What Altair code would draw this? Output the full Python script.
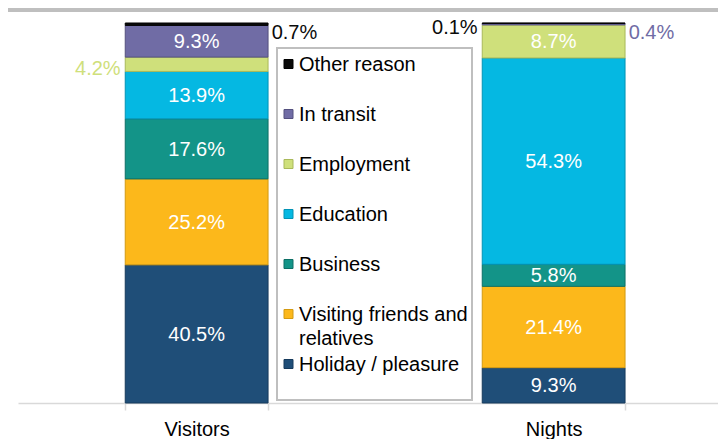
import altair as alt
import pandas as pd

categories = ["Visitors", "Nights"]
reasons = ["Holiday / pleasure", "Visiting friends and relatives", "Business",
           "Education", "Employment", "In transit", "Other reason"]
visitors = [40.5, 25.2, 17.6, 13.9, 4.2, 9.3, 0.7]
nights = [9.3, 21.4, 5.8, 54.3, 8.7, 0.4, 0.1]
label_pos_visitors = ["in", "in", "in", "in", "left", "in", "right"]
label_pos_nights = ["in", "in", "in", "in", "in", "right", "left"]
colors = ["#1F4E78", "#FCB81B", "#139488", "#05B8E2", "#CFE07B", "#706CA5", "#0A0A0A"]
edge_colors = ["#163A5C", "#D39A12", "#0D6F66", "#0393B5", "#A9B95A", "#54507F", "#000000"]

rows = []
for cat, vals, pos in [("Visitors", visitors, label_pos_visitors),
                       ("Nights", nights, label_pos_nights)]:
    for i, (r, v, p) in enumerate(zip(reasons, vals, pos)):
        rows.append({"cat": cat, "reason": r, "idx": i, "value": v, "pos": p})
df = pd.DataFrame(rows)
leg_df = pd.DataFrame({"reason": reasons})

FONT = "Liberation Sans"
FS = 20

fill_scale = alt.Scale(domain=reasons, range=colors)
stroke_scale = alt.Scale(domain=reasons, range=edge_colors)
y_scale = alt.Scale(domain=[0, 1])
x_enc = alt.X("cat:N", sort=categories,
              scale=alt.Scale(paddingInner=0.6, paddingOuter=0.2804, align=0.5357),
              axis=alt.Axis(title=None, labelAngle=0))

base = alt.Chart(df).transform_stack(
    stack="value", groupby=["cat"], sort=[alt.SortField("idx", "ascending")],
    as_=["v0", "v1"], offset="normalize"
).transform_calculate(
    mid="(datum.v0 + datum.v1) / 2",
    label="format(datum.value, '.1f') + '%'"
)

bars = base.mark_bar(strokeWidth=1).encode(
    x=x_enc,
    y=alt.Y("v0:Q", scale=y_scale, axis=None),
    y2="v1:Q",
    fill=alt.Fill("reason:N", scale=fill_scale, legend=None),
    stroke=alt.Stroke("reason:N", scale=stroke_scale, legend=None),
)

lab_in = base.transform_filter("datum.pos == 'in'").mark_text(
    font=FONT, fontSize=FS, color="white", baseline="middle", align="center", dy=1
).encode(x=x_enc, y=alt.Y("mid:Q", scale=y_scale, axis=None), text="label:N")

lab_right = base.transform_filter("datum.pos == 'right'").mark_text(
    font=FONT, fontSize=FS, baseline="middle", align="left", dx=75, dy=9
).encode(x=x_enc, y=alt.Y("mid:Q", scale=y_scale, axis=None), text="label:N",
         fill=alt.Fill("reason:N", scale=fill_scale, legend=None))

lab_left = base.transform_filter("datum.pos == 'left'").mark_text(
    font=FONT, fontSize=FS, baseline="middle", align="right", dx=-76, dy=5
).encode(x=x_enc, y=alt.Y("mid:Q", scale=y_scale, axis=None), text="label:N",
         fill=alt.Fill("reason:N", scale=fill_scale, legend=None))

top_band = alt.Chart(alt.Data(values=[{}])).mark_rect(fill="#BFBFBF").encode(
    x=alt.value(-12), x2=alt.value(700), y=alt.value(-15), y2=alt.value(-11))

box = alt.Chart(alt.Data(values=[{}])).mark_rect(
    fill="white", stroke="#BFBFBF", strokeWidth=2).encode(
    x=alt.value(259), x2=alt.value(454), y=alt.value(25), y2=alt.value(377))

leg_y = alt.Y("reason:N", sort=reasons[::-1],
              scale=alt.Scale(type="point", domain=reasons[::-1], range=[41, 341], padding=0),
              axis=None)
leg_base = alt.Chart(leg_df).transform_calculate(
    txt="replace(datum.reason, ' and ', ' and\\n')")

leg_sym = leg_base.mark_square(size=81, strokeWidth=1, opacity=1).encode(
    x=alt.value(270.5), y=leg_y,
    fill=alt.Fill("reason:N", scale=fill_scale, legend=None),
    stroke=alt.Stroke("reason:N", scale=stroke_scale, legend=None))

leg_txt = leg_base.mark_text(
    font=FONT, fontSize=FS, align="left", baseline="middle", lineBreak="\n",
    lineHeight=24, color="black", dy=1).encode(
    x=alt.value(281), y=leg_y, text="txt:N")

main = alt.layer(top_band, bars, lab_in, lab_right, lab_left)
legend = alt.layer(box, leg_sym, leg_txt)

chart = alt.layer(main, legend).resolve_scale(y="independent").properties(
    width=700, height=380,
    padding={"left": 10, "top": 15, "right": 0, "bottom": 36},
    autosize=alt.AutoSizeParams(type="none"),
    background="white",
).configure_view(stroke=None).configure_axis(
    domainColor="#D9D9D9", tickColor="#D9D9D9", domainWidth=1.5, tickWidth=1.5,
    tickSize=7, labelFontSize=FS, labelFont=FONT, labelColor="black",
    labelPadding=9, tickBand="extent", grid=False,
)

chart.save("out.html", embed_options={"renderer": "svg", "actions": False})
